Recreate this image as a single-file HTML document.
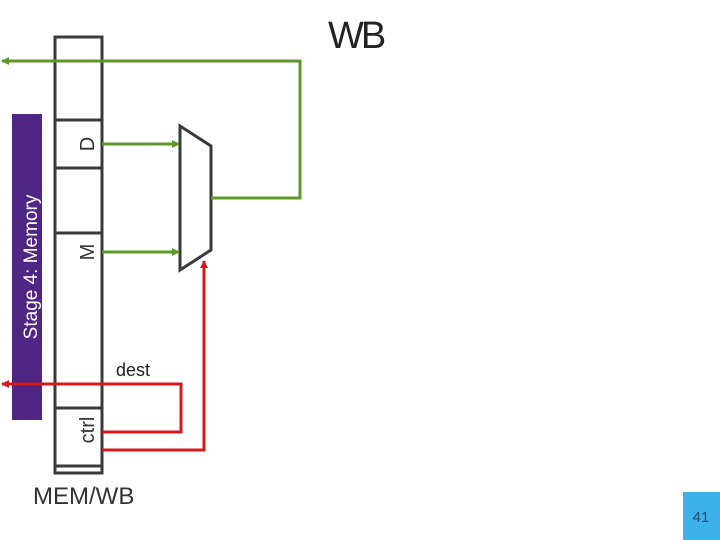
<!DOCTYPE html>
<html><head><meta charset="utf-8"><style>
html,body{margin:0;padding:0;background:#fff;width:720px;height:540px;overflow:hidden}
svg{display:block}
text{font-family:"Liberation Sans",sans-serif}
</style></head><body>
<svg width="720" height="540" viewBox="0 0 720 540">
<defs>
<marker id="ag" markerWidth="8" markerHeight="8" refX="7" refY="4" orient="auto" markerUnits="userSpaceOnUse"><path d="M0,0 L8,4 L0,8 z" fill="#5b9a2a"/></marker>
<marker id="ar" markerWidth="8" markerHeight="8" refX="7" refY="4" orient="auto" markerUnits="userSpaceOnUse"><path d="M0,0 L8,4 L0,8 z" fill="#d41919"/></marker>
</defs>
<text x="328" y="48" font-size="38" fill="#222" letter-spacing="-3">WB</text>
<rect x="12" y="114" width="30" height="306" fill="#4f2683"/>
<text transform="translate(37,267) rotate(-90)" font-size="19" fill="#fff" text-anchor="middle">Stage 4: Memory</text>
<rect x="55" y="37" width="47" height="436" fill="#fff" stroke="#3a3a3a" stroke-width="3"/>
<g stroke="#3a3a3a" stroke-width="3">
<line x1="55" y1="120" x2="102" y2="120"/>
<line x1="55" y1="168" x2="102" y2="168"/>
<line x1="55" y1="233" x2="102" y2="233"/>
<line x1="55" y1="408" x2="102" y2="408"/>
<line x1="55" y1="466" x2="102" y2="466"/>
</g>
<text transform="translate(94,144) rotate(-90)" font-size="20" fill="#333" text-anchor="middle">D</text>
<text transform="translate(94,252) rotate(-90)" font-size="20" fill="#333" text-anchor="middle">M</text>
<text transform="translate(94,430) rotate(-90)" font-size="20" fill="#333" text-anchor="middle">ctrl</text>
<path d="M180,126 L211,146 L211,250 L180,270 Z" fill="#fff" stroke="#3a3a3a" stroke-width="3"/>
<g stroke="#5b9a2a" stroke-width="3" fill="none">
<polyline points="211,198 300,198 300,61 2,61" marker-end="url(#ag)"/>
<line x1="102" y1="144" x2="179" y2="144" marker-end="url(#ag)"/>
<line x1="102" y1="252" x2="179" y2="252" marker-end="url(#ag)"/>
</g>
<g stroke="#d41919" stroke-width="3" fill="none">
<polyline points="102,432 181,432 181,384 2,384" marker-end="url(#ar)"/>
<polyline points="102,450 204,450 204,261" marker-end="url(#ar)"/>
</g>
<text x="116" y="376" font-size="18" fill="#222">dest</text>
<text x="33" y="504" font-size="24" fill="#333">MEM/WB</text>
<rect x="683" y="492" width="37" height="48" fill="#3db2ea"/>
<text x="701" y="522" font-size="15" fill="#1d4e6e" text-anchor="middle">41</text>
</svg>
</body></html>
